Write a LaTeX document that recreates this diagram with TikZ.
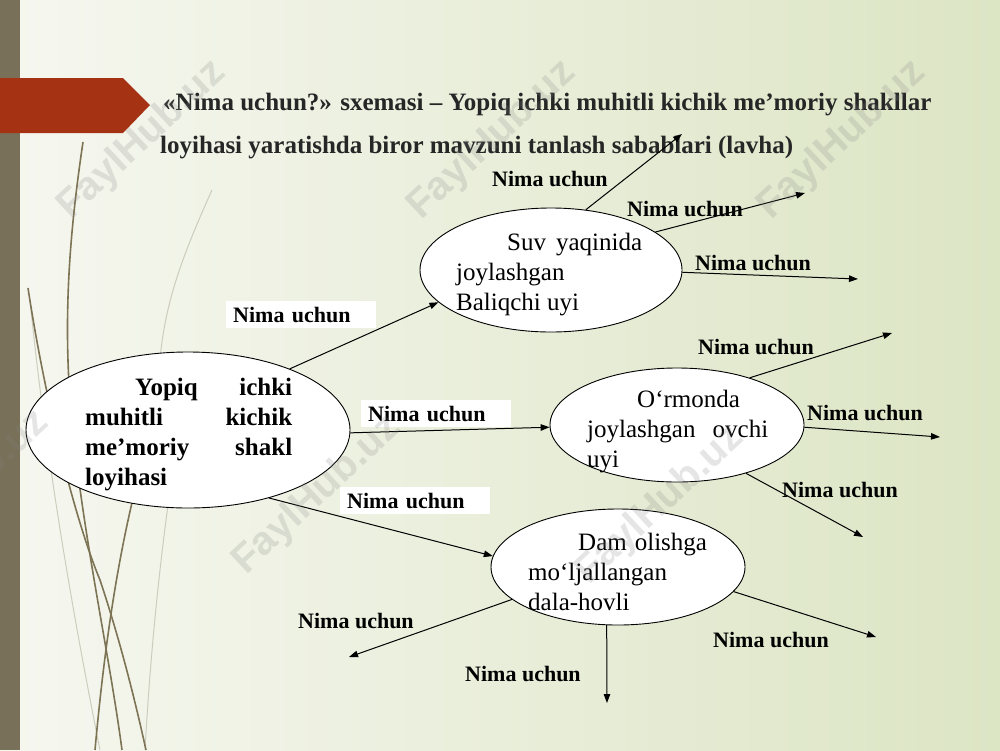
\documentclass[tikz,border=0pt]{standalone}
\usepackage{fontspec}
\setmainfont{Liberation Serif}
\newfontfamily\wmfont{Liberation Sans}
\usetikzlibrary{shapes.geometric,arrows.meta}
\definecolor{bgL}{RGB}{246,247,240}
\definecolor{bgR}{RGB}{220,229,196}
\definecolor{stripc}{RGB}{120,112,88}
\definecolor{bannerc}{RGB}{166,50,20}
\definecolor{grassc}{RGB}{125,115,85}
\definecolor{grassl}{RGB}{205,205,190}
\definecolor{titlec}{RGB}{38,38,38}
\begin{document}
\begin{tikzpicture}[x=1pt,y=-1pt,
  ell/.style={ellipse,draw,fill=white,line width=0.9pt,inner sep=0pt},
  lbl/.style={font=\fontsize{22}{24}\selectfont\bfseries,inner sep=0pt,anchor=base west},
  boxlbl/.style={lbl,fill=white,inner xsep=7pt,text width=136pt,align=left,text height=16pt,text depth=1pt,inner ysep=5pt},
  arr/.style={line width=1pt,-{Triangle[length=9pt,width=6.5pt]}},
  etext/.style={font=\fontsize{25}{30}\selectfont,inner sep=0pt,anchor=base west},
  ttl/.style={font=\fontsize{25}{28}\selectfont\bfseries,text=titlec,inner sep=0pt,anchor=base west},
  wm/.style={font=\wmfont\bfseries\fontsize{40}{40}\selectfont,text=gray,opacity=0.2,rotate=43,inner sep=0pt},
  grass/.style={grassc,line width=1.6pt},
  grassthin/.style={grassl,line width=1pt}
]
\useasboundingbox (0,0) rectangle (1000,750);
% background
\shade[left color=bgL,right color=bgR] (0,0) rectangle (1000,750);
\fill[stripc] (0,0) rectangle (20,750);
% grass decoration
\draw[grassthin] (212,190) .. controls (185,250) and (165,300) .. (160,360);
\draw[grassthin] (168,505) .. controls (158,580) and (150,660) .. (145,750);
\draw[grassthin] (30,300) .. controls (45,450) and (70,600) .. (100,750);
\draw[grass] (83,142) .. controls (70,230) and (60,330) .. (75,450) .. controls (88,560) and (110,660) .. (122,750);
\draw[grass] (28,288) .. controls (45,400) and (75,520) .. (100,580) .. controls (120,640) and (135,700) .. (146,750);
\draw[grass] (95,750) .. controls (105,640) and (118,560) .. (135,490);
% banner
\fill[bannerc] (0,78) -- (123,78) -- (150,105) -- (123,133) -- (0,133) -- cycle;
% title
\node[ttl] (t1) at (163,110) {«Nima uchun?» sxemasi – Yopiq ichki muhitli kichik me’moriy shakllar};
\node[ttl] (t2) at (160,153) {loyihasi yaratishda biror mavzuni tanlash sabablari (lavha)};
% ellipses
\node[ell,minimum width=324pt,minimum height=156pt] (main) at (188,430) {};
\node[ell,minimum width=262pt,minimum height=124pt] (suv) at (551,270) {};
\node[ell,minimum width=254pt,minimum height=114pt] (orm) at (677,425) {};
\node[ell,minimum width=254pt,minimum height=116pt] (dam) at (618,567) {};
% ellipse texts
\node[etext,font=\fontsize{25}{30}\selectfont\bfseries] (maint) at (85,395)
  {\parbox[t]{207pt}{\hspace*{50pt}Yopiq\hfill ichki\\muhitli\hfill kichik\\me’moriy\hfill shakl\\loyihasi}};
\node[etext] (suvt) at (456,250) {\parbox[t]{190pt}{\hspace*{51pt}Suv\hspace{10pt}yaqinida\\joylashgan\\Baliqchi uyi}};
\node[etext] (ormt) at (587,407) {\parbox[t]{181pt}{\hspace*{50pt}O‘rmonda\\joylashgan\hfill ovchi\\uyi}};
\node[etext] (damt) at (528,550) {\parbox[t]{185pt}{\hspace*{50pt}Dam\hspace{8pt}olishga\\mo‘ljallangan\\dala-hovli}};
% free ends
\coordinate (s1) at (682,134);
\coordinate (s2) at (805,193);
\coordinate (s3) at (858,279);
\coordinate (o1) at (892,333);
\coordinate (o2) at (940,437);
\coordinate (o3) at (863,537);
\coordinate (d1) at (349,657);
\coordinate (d2) at (607,703);
\coordinate (d3) at (876,637);
% connectors
\draw[arr] (main.31) -- (suv.196);
\draw[arr] (main.-1) -- (orm.181);
\draw[arr] (main.-40) -- (dam.175);
\draw[arr] (suv.60) -- (s1);
\draw[arr] (suv.20) -- (s2);
\draw[arr] (suv.-1) -- (s3);
\draw[arr] (orm.33) -- (o1);
\draw[arr] (orm.-1) -- (o2);
\draw[arr] (orm.-35) -- (o3);
\draw[arr] (dam.197) -- (d1);
\draw[arr] (dam.259) -- (d2);
\draw[arr] (dam.-12) -- (d3);
% labels
\node[boxlbl] (l1) at (226,322) {Nima uchun};
\node[boxlbl] (l2) at (361,421) {Nima uchun};
\node[boxlbl] (l3) at (340,508) {Nima uchun};
\node[lbl] (l4) at (492,186) {Nima uchun};
\node[lbl] (l5) at (627,216) {Nima uchun};
\node[lbl] (l6) at (695,270) {Nima uchun};
\node[lbl] (l7) at (698,354) {Nima uchun};
\node[lbl] (l8) at (807,420) {Nima uchun};
\node[lbl] (l9) at (782,497) {Nima uchun};
\node[lbl] (l10) at (298,628) {Nima uchun};
\node[lbl] (l11) at (465,681) {Nima uchun};
\node[lbl] (l12) at (713,647) {Nima uchun};
% watermarks
\node[wm] (w1) at (142,140) {FaylHub.uz};
\node[wm] (w2) at (492,140) {FaylHub.uz};
\node[wm] (w3) at (842,140) {FaylHub.uz};
\node[wm] (w4) at (317,495) {FaylHub.uz};
\node[wm] (w5) at (660,505) {FaylHub.uz};
\node[wm] (w6) at (-35,490) {FaylHub.uz};
\end{tikzpicture}
\end{document}
